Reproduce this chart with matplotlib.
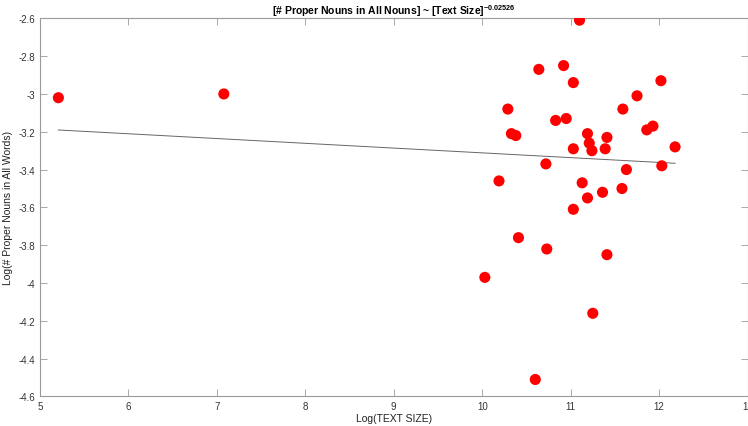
import numpy as np
import matplotlib
matplotlib.use("Agg")
import matplotlib.pyplot as plt
from matplotlib.ticker import FuncFormatter

plt.rcParams["font.family"] = ["Liberation Sans Narrow", "Liberation Sans", "DejaVu Sans"]
plt.rcParams["axes.unicode_minus"] = False
plt.rcParams["mathtext.default"] = "regular"

# log text size vs log share of proper nouns
log_size = [5.21, 7.08, 11.10, 10.64, 10.92, 11.03, 12.02, 11.75, 11.59, 10.29,
            10.83, 10.95, 11.86, 11.93, 10.33, 10.38, 11.19, 11.41, 11.21, 11.03,
            11.24, 11.39, 12.18, 10.72, 12.03, 11.63, 10.19, 11.13, 11.36, 11.58,
            11.19, 11.03, 10.41, 10.73, 11.41, 10.03, 11.25, 10.60]
log_proper = [-3.02, -3.00, -2.61, -2.87, -2.85, -2.94, -2.93, -3.01, -3.08, -3.08,
              -3.14, -3.13, -3.19, -3.17, -3.21, -3.22, -3.21, -3.23, -3.26, -3.29,
              -3.30, -3.29, -3.28, -3.37, -3.38, -3.40, -3.46, -3.47, -3.52, -3.50,
              -3.55, -3.61, -3.76, -3.82, -3.85, -3.97, -4.16, -4.51]

# power-law fit: exponent and intercept on log scale
exponent = -0.02526
intercept = -3.059

x_ticks = [5, 6, 7, 8, 9, 10, 11, 12, 13]
y_ticks = [-4.6, -4.4, -4.2, -4.0, -3.8, -3.6, -3.4, -3.2, -3.0, -2.8, -2.6]

fig = plt.figure(figsize=(7.48, 4.27), dpi=100)
ax = fig.add_axes([0.0532, 0.0691, 0.9463, 0.8857])

xs = np.array([min(log_size), max(log_size)])
ax.plot(xs, intercept + exponent * xs, color="#666666", lw=0.7, zorder=2)
ax.scatter(log_size, log_proper, s=64, color="red", edgecolors="none", zorder=3)

ax.set_xlim(5, 13)
ax.set_ylim(-4.6, -2.6)
ax.set_xticks(x_ticks)
ax.set_yticks(y_ticks)
ax.yaxis.set_major_formatter(FuncFormatter(lambda v, p: "%g" % round(v, 2)))

gray = "#9a9a9a"
for sp in ax.spines.values():
    sp.set_color(gray)
    sp.set_linewidth(0.8)
ax.tick_params(direction="in", length=5, width=0.6, color=gray,
               labelsize=7, labelcolor="#333333", top=True, right=True, pad=3)

ax.set_xlabel("Log(TEXT SIZE)", fontsize=7.5, color="#222222", labelpad=2)
ax.set_ylabel("Log(# Proper Nouns in All Words)", fontsize=7.5, color="#222222", labelpad=4)
ax.set_title("[# Proper Nouns in All Nouns] ~ [Text Size]$^{-0.02526}$",
             fontsize=7.5, fontweight="bold", pad=3)

fig.savefig("out.png", dpi=100, facecolor="white")
